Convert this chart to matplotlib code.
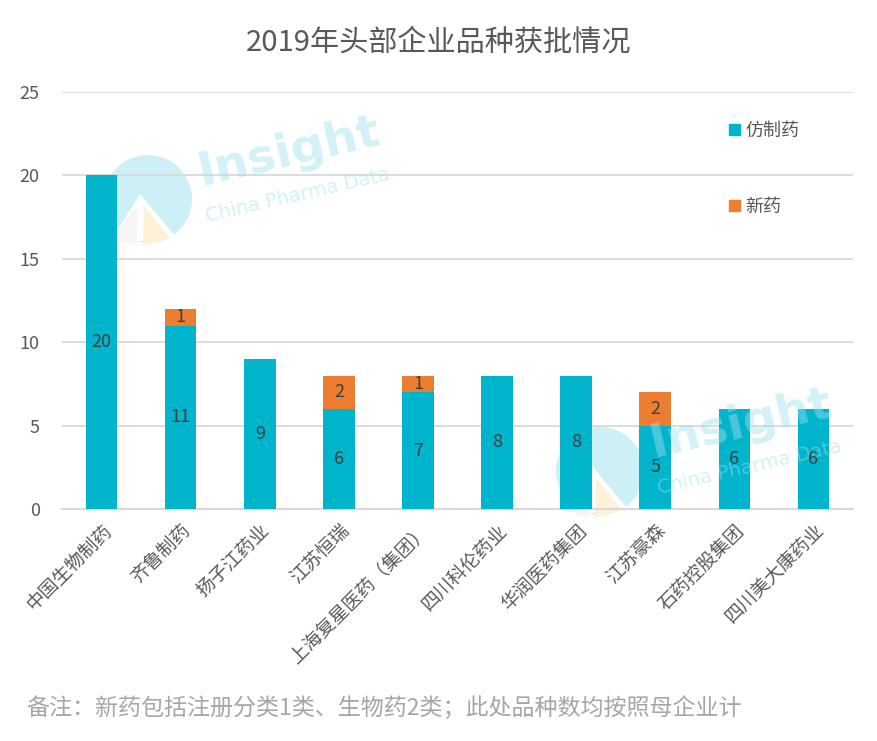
import matplotlib
matplotlib.use("Agg")
import matplotlib.pyplot as plt
from matplotlib.patches import Circle, Polygon, Patch

plt.rcParams['font.family'] = ['Noto Sans CJK SC', 'DejaVu Sans']

categories = ["中国生物制药", "齐鲁制药", "扬子江药业", "江苏恒瑞", "上海复星医药（集团）",
              "四川科伦药业", "华润医药集团", "江苏豪森", "石药控股集团", "四川美大康药业"]
generic = [20, 11, 9, 6, 7, 8, 8, 5, 6, 6]
new_drug = [0, 1, 0, 2, 1, 0, 0, 2, 0, 0]
yticks = [0, 5, 10, 15, 20, 25]
series_names = ["仿制药", "新药"]
title = "2019年头部企业品种获批情况"
note = "备注：新药包括注册分类1类、生物药2类；此处品种数均按照母企业计"

C_GEN = "#00B4CC"
C_NEW = "#ED7D31"
GRID = "#D9D9D9"
TXT = "#595959"

W, H = 877, 741
fig = plt.figure(figsize=(W / 100, H / 100), dpi=100)

# watermark layers (back: logo, front: faint text)
back = fig.add_axes([0, 0, 1, 1], zorder=0)
back.set_xlim(0, W)
back.set_ylim(H, 0)
back.axis('off')

ax = fig.add_axes([62 / W, (H - 509) / H, (853 - 62) / W, (509 - 92) / H], zorder=1)
ax.patch.set_alpha(0)

front = fig.add_axes([0, 0, 1, 1], zorder=2)
front.set_xlim(0, W)
front.set_ylim(H, 0)
front.axis('off')
front.patch.set_alpha(0)

x = list(range(len(categories)))
b1 = ax.bar(x, generic, width=0.4, color=C_GEN, label=series_names[0], zorder=3)
b2 = ax.bar(x, new_drug, width=0.4, bottom=generic, color=C_NEW, label=series_names[1], zorder=3)

ax.set_xlim(-0.5, len(categories) - 0.5)
ax.set_ylim(0, 25)
ax.set_yticks(yticks)
ax.set_yticklabels([str(t) for t in yticks], fontsize=13, color=TXT)
ax.yaxis.grid(True, color=GRID, linewidth=1.3, zorder=0)
ax.set_axisbelow(True)
for s in ["top", "right", "left"]:
    ax.spines[s].set_visible(False)
ax.spines["bottom"].set_color(GRID)
ax.spines["bottom"].set_linewidth(1.5)
ax.tick_params(axis='both', length=0)
ax.tick_params(axis='y', pad=16)
ax.set_xticks(x)
ax.set_xticklabels(categories, rotation=45, ha='right', rotation_mode='anchor',
                   fontsize=13.5, color=TXT)
ax.tick_params(axis='x', pad=8)

leg = ax.legend(handles=[Patch(color=C_GEN), Patch(color=C_NEW)], labels=series_names,
                loc='upper left', bbox_to_anchor=(729 / W, 1 - 122 / H),
                bbox_transform=fig.transFigure, frameon=False, fontsize=13,
                handlelength=0.6, handleheight=0.6, handletextpad=0.3,
                labelspacing=3.2, borderpad=0, borderaxespad=0)
for t in leg.get_texts():
    t.set_color(TXT)

fig.text(0.5, 1 - 43 / H, title, ha='center', va='center', fontsize=21, color=TXT)
fig.text(26 / W, 1 - 708 / H, note, ha='left', va='center', fontsize=16.6, color="#A6A6A6")


def watermark(dx, dy):
    back.add_patch(Circle((148 + dx, 199 + dy), 44, color="#CDEFF6", lw=0))
    back.add_patch(Polygon([(140 + dx, 194 + dy), (108 + dx, 245 + dy), (176 + dx, 237 + dy)],
                           closed=True, color="white", lw=0))
    back.add_patch(Polygon([(144 + dx, 206 + dy), (143 + dx, 246 + dy), (170 + dx, 238 + dy)],
                           closed=True, color="#FDF2D8", lw=0))
    back.add_patch(Polygon([(137 + dx, 206 + dy), (112 + dx, 238 + dy), (137 + dx, 246 + dy)],
                           closed=True, color="#F6F6F6", lw=0))
    front.text(289 + dx, 152 + dy, "Insight", fontsize=34, fontweight='bold', color="#9FE0EE",
               alpha=0.45, rotation=13, ha='center', va='center', family='DejaVu Sans')
    front.text(298 + dx, 195 + dy, "China Pharma Data", fontsize=14, color="#9FE0EE",
               alpha=0.45, rotation=13, ha='center', va='center', family='DejaVu Sans')


watermark(0, 0)
watermark(452, 272)

# value labels on top of everything
ax2 = fig.add_axes(ax.get_position(), zorder=3, sharex=ax, sharey=ax)
ax2.axis('off')
ax2.patch.set_alpha(0)
lb1 = ax2.bar(x, generic, width=0.4, color='none', zorder=3)
lb2 = ax2.bar(x, new_drug, width=0.4, bottom=generic, color='none', zorder=3)
ax2.bar_label(lb1, labels=[str(v) if v else "" for v in generic], label_type='center',
              fontsize=13, color="#404040")
ax2.bar_label(lb2, labels=[str(v) if v else "" for v in new_drug], label_type='center',
              fontsize=13, color="#404040")

fig.savefig("out.png", dpi=100)
